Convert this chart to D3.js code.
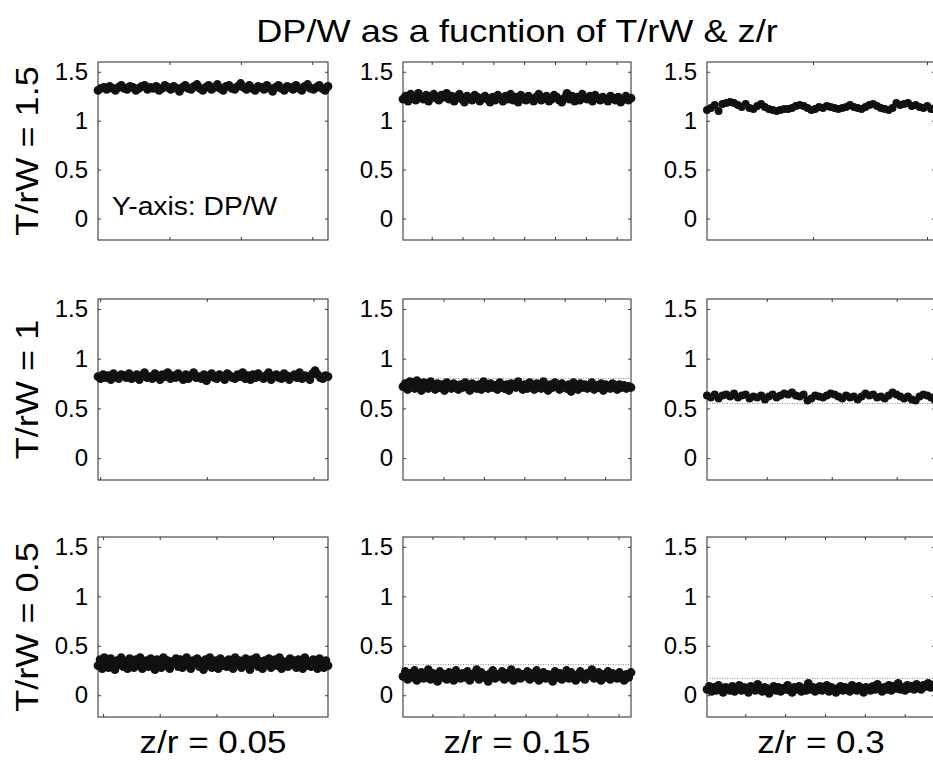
<!DOCTYPE html>
<html>
<head>
<meta charset="utf-8">
<script src="https://cdn.jsdelivr.net/npm/d3@7"></script>
<style>
  html, body { margin: 0; padding: 0; background: #fff; }
  svg { display: block; }
  text { font-family: "Liberation Sans", Arial, Helvetica, sans-serif; fill: #000; }
</style>
</head>
<body>
<svg id="chart" width="933" height="769"></svg>
<script>
// ---------------- data ----------------
const chartTitle = "DP/W as a fucntion of T/rW & z/r";
const rowLabels = ["T/rW = 1.5", "T/rW = 1", "T/rW = 0.5"];
const colLabels = ["z/r = 0.05", "z/r = 0.15", "z/r = 0.3"];
const yTickValues = [0, 0.5, 1, 1.5];
const yTickLabels = ["0", "0.5", "1", "1.5"];
const insideNote = "Y-axis: DP/W";

// DP/W samples, T/rW = 1.5
const dpT15z005 = [1.31,1.33,1.34,1.32,1.35,1.33,1.31,1.34,1.36,1.33,1.32,1.35,1.34,1.31,1.33,1.35,1.36,1.32,1.34,1.33,
  1.35,1.31,1.33,1.36,1.34,1.32,1.35,1.33,1.30,1.34,1.36,1.33,1.32,1.35,1.37,1.33,1.31,1.34,1.36,1.32,
  1.34,1.37,1.33,1.31,1.35,1.36,1.33,1.32,1.35,1.38,1.34,1.32,1.36,1.33,1.31,1.35,1.34,1.32,1.36,1.33,
  1.30,1.34,1.36,1.33,1.31,1.35,1.34,1.32,1.36,1.33,1.31,1.35,1.37,1.33,1.32,1.34,1.36,1.33,1.31,1.35];
const dpT15z015 = [1.22,1.25,1.20,1.27,1.23,1.21,1.28,1.24,1.22,1.26,1.20,1.25,1.27,1.23,1.21,1.26,1.24,1.28,1.22,1.25,
  1.20,1.24,1.27,1.22,1.19,1.25,1.23,1.21,1.26,1.24,1.20,1.23,1.25,1.22,1.19,1.24,1.21,1.26,1.23,1.20,
  1.25,1.22,1.27,1.21,1.24,1.19,1.26,1.23,1.21,1.25,1.22,1.20,1.24,1.27,1.21,1.23,1.25,1.20,1.22,1.26,
  1.24,1.21,1.19,1.23,1.28,1.22,1.25,1.20,1.24,1.21,1.27,1.23,1.22,1.25,1.20,1.26,1.23,1.21,1.24,1.22,
  1.20,1.25,1.23,1.21,1.24,1.19,1.22,1.25,1.21,1.23];
const dpT15z03 = [1.11,1.13,1.16,1.10,1.17,1.18,1.19,1.18,1.16,1.14,1.17,1.13,1.12,1.15,1.17,1.14,1.12,1.11,1.10,1.11,
  1.12,1.12,1.13,1.15,1.16,1.15,1.13,1.11,1.12,1.14,1.13,1.15,1.14,1.13,1.12,1.13,1.14,1.16,1.14,1.13,
  1.12,1.14,1.16,1.17,1.15,1.13,1.12,1.11,1.13,1.18,1.16,1.17,1.18,1.15,1.16,1.14,1.13,1.15,1.12,1.13];

// DP/W samples, T/rW = 1
const dpT1z005 = [0.82,0.80,0.84,0.81,0.83,0.79,0.85,0.82,0.80,0.84,0.83,0.81,0.85,0.80,0.82,0.84,0.79,0.83,0.86,0.81,
  0.82,0.80,0.85,0.83,0.79,0.84,0.82,0.86,0.80,0.83,0.81,0.85,0.82,0.79,0.84,0.80,0.83,0.86,0.81,0.82,
  0.80,0.84,0.78,0.83,0.85,0.81,0.80,0.84,0.82,0.79,0.85,0.83,0.81,0.80,0.84,0.82,0.86,0.80,0.83,0.79,
  0.84,0.81,0.85,0.82,0.80,0.83,0.86,0.79,0.82,0.84,0.81,0.80,0.85,0.83,0.79,0.82,0.84,0.81,0.86,0.80,
  0.83,0.82,0.79,0.85,0.88,0.84,0.81,0.80,0.83,0.82];
const dpT1z015 = [0.72,0.75,0.69,0.77,0.73,0.70,0.78,0.74,0.68,0.76,0.72,0.70,0.77,0.73,0.69,0.75,0.71,0.74,0.68,0.76,
  0.72,0.70,0.75,0.73,0.69,0.74,0.71,0.76,0.72,0.68,0.75,0.73,0.70,0.74,0.69,0.77,0.72,0.70,0.75,0.71,
  0.73,0.69,0.76,0.72,0.70,0.74,0.68,0.75,0.72,0.71,0.77,0.73,0.69,0.74,0.70,0.76,0.72,0.69,0.75,0.73,
  0.70,0.77,0.72,0.68,0.74,0.71,0.76,0.73,0.69,0.75,0.72,0.70,0.74,0.67,0.76,0.73,0.69,0.75,0.71,0.74,
  0.70,0.72,0.76,0.69,0.73,0.71,0.75,0.68,0.74,0.72,0.70,0.75,0.73,0.69,0.74,0.71,0.73,0.70,0.72,0.71];
const dpT1z03 = [0.63,0.61,0.64,0.60,0.63,0.64,0.62,0.65,0.61,0.63,0.64,0.60,0.62,0.61,0.63,0.59,0.62,0.64,0.61,0.63,
  0.65,0.64,0.66,0.63,0.62,0.64,0.58,0.60,0.63,0.62,0.61,0.63,0.65,0.64,0.62,0.60,0.63,0.61,0.62,0.59,
  0.62,0.65,0.63,0.64,0.61,0.62,0.60,0.63,0.66,0.64,0.62,0.60,0.62,0.59,0.58,0.62,0.64,0.63,0.61,0.58];

// DP/W samples, T/rW = 0.5
const dpT05z005 = [0.30,0.36,0.27,0.38,0.32,0.28,0.37,0.33,0.26,0.35,0.31,0.38,0.29,0.34,0.27,0.37,0.32,0.28,0.36,0.30,
  0.38,0.27,0.33,0.35,0.29,0.37,0.31,0.26,0.36,0.33,0.28,0.38,0.30,0.35,0.27,0.34,0.32,0.37,0.29,0.36,
  0.28,0.33,0.38,0.30,0.27,0.35,0.32,0.37,0.29,0.34,0.26,0.36,0.31,0.38,0.28,0.33,0.35,0.27,0.37,0.30,
  0.34,0.29,0.36,0.32,0.27,0.38,0.31,0.35,0.28,0.33,0.37,0.30,0.26,0.36,0.32,0.38,0.29,0.34,0.27,0.35,
  0.31,0.37,0.28,0.33,0.36,0.30,0.38,0.27,0.34,0.32,0.29,0.37,0.31,0.35,0.28,0.36,0.33,0.27,0.38,0.30,
  0.34,0.29,0.36,0.31,0.27,0.37,0.33,0.28,0.35,0.30];
const dpT05z015 = [0.19,0.24,0.16,0.22,0.18,0.25,0.15,0.21,0.23,0.17,0.20,0.26,0.16,0.22,0.19,0.14,0.24,0.18,0.21,0.16,
  0.23,0.19,0.15,0.25,0.20,0.17,0.22,0.18,0.24,0.15,0.21,0.19,0.26,0.16,0.23,0.18,0.20,0.14,0.22,0.25,
  0.17,0.21,0.19,0.24,0.16,0.22,0.18,0.26,0.15,0.20,0.23,0.17,0.21,0.19,0.24,0.16,0.22,0.18,0.25,0.15,
  0.20,0.23,0.17,0.21,0.19,0.14,0.24,0.18,0.22,0.16,0.20,0.25,0.17,0.23,0.19,0.15,0.21,0.24,0.18,0.16,
  0.22,0.20,0.26,0.17,0.19,0.23,0.15,0.21,0.18,0.24,0.16,0.22,0.20,0.17,0.23,0.19,0.15,0.21,0.18,0.23];
const dpT05z03 = [0.06,0.09,0.04,0.08,0.05,0.10,0.07,0.03,0.08,0.06,0.05,0.09,0.04,0.07,0.10,0.05,0.08,0.06,0.03,0.09,
  0.07,0.05,0.11,0.06,0.04,0.08,0.07,0.02,0.06,0.09,0.05,0.08,0.04,0.07,0.06,0.10,0.05,0.03,0.08,0.06,
  0.09,0.04,0.07,0.05,0.12,0.06,0.08,0.04,0.07,0.09,0.05,0.06,0.10,0.04,0.08,0.06,0.03,0.07,0.09,0.05,
  0.08,0.06,0.04,0.10,0.07,0.05,0.09,0.06,0.03,0.08,0.07,0.05,0.09,0.06,0.11,0.07,0.04,0.08,0.06,0.10,
  0.05,0.09,0.07,0.12,0.06,0.08,0.05,0.10,0.07,0.09,0.06,0.11,0.08,0.06,0.10,0.09,0.12,0.08,0.10,0.11];

// reference (dotted) levels per panel, null = none
const refLevels = [null, null, null, null, 0.80, 0.55, null, 0.31, 0.17];
// x-axis (sample index) ranges and tick steps per panel
const xRanges = [[0,161],[1.4,149.3],[3.5,103.5],[-2,213.6],[0,282],[1.6,71.8],[-4.5,198.5],[1,148],[2,288]];
const xTickSteps = [50, 20, 50, 100, 50, 20, 50, 20, 50];
const seriesList = [dpT15z005, dpT15z015, dpT15z03, dpT1z005, dpT1z015, dpT1z03, dpT05z005, dpT05z015, dpT05z03];

// ---------------- layout ----------------
const colLeft = [98, 403, 707];
const colWidth = [230, 228, 228];
const rowTop = [62, 299, 537];
const rowBottom = [240, 480, 717];
const yDomain = [-0.22, 1.6];
const stretch = 1.13; // horizontal stretch of the original lettering
const denseR = 4.4, sparseR = 4.0;
const sparsePanels = [2, 5];

const svg = d3.select("#chart");

// title
svg.append("text")
  .attr("transform", `translate(517,42) scale(${stretch},1)`)
  .attr("text-anchor", "middle")
  .style("font-size", "32px")
  .text(chartTitle);

seriesList.forEach((vals, idx) => {
  const r = Math.floor(idx / 3), c = idx % 3;
  const L = colLeft[c], W = colWidth[c], T = rowTop[r], H = rowBottom[r] - rowTop[r];
  const g = svg.append("g").attr("transform", `translate(${L},${T})`);
  const [a, b] = xRanges[idx];
  const x = d3.scaleLinear().domain([a, b]).range([0, W]);
  const y = d3.scaleLinear().domain(yDomain).range([H, 0]);
  const step = xTickSteps[idx];
  const xt = d3.range(Math.ceil(a / step) * step, b + 1e-9, step).filter(v => v > a + 0.5);

  // box
  g.append("rect").attr("x", 0).attr("y", 0).attr("width", W).attr("height", H)
    .attr("fill", "#fff").attr("stroke", "#3a3a3a").attr("stroke-width", 1.1);

  // ticks (inward, all four sides)
  const axB = g.append("g").attr("transform", `translate(0,${H})`)
    .call(d3.axisBottom(x).tickValues(xt).tickSize(-3).tickFormat(""));
  const axT = g.append("g")
    .call(d3.axisTop(x).tickValues(xt).tickSize(-3).tickFormat(""));
  const axR = g.append("g").attr("transform", `translate(${W},0)`)
    .call(d3.axisRight(y).tickValues(yTickValues).tickSize(-3).tickFormat(""));
  const axL = g.append("g")
    .call(d3.axisLeft(y).tickValues(yTickValues).tickSize(-3).tickPadding(10)
      .tickFormat((d, i) => yTickLabels[i]));
  [axB, axT, axR, axL].forEach(ax => {
    ax.select(".domain").remove();
    ax.selectAll(".tick line").attr("stroke", "#3a3a3a");
  });
  axL.selectAll("text").style("font-size", "24px")
    .style("font-family", '"Liberation Sans", Arial, sans-serif').attr("fill", "#000");

  // dotted reference level
  if (refLevels[idx] !== null) {
    g.append("line")
      .attr("x1", 0).attr("x2", W)
      .attr("y1", y(refLevels[idx])).attr("y2", y(refLevels[idx]))
      .attr("stroke", "#8a8a8a").attr("stroke-width", 1).attr("stroke-dasharray", "1,1.5");
  }

  // markers
  const n = vals.length;
  const rr = sparsePanels.includes(idx) ? sparseR : denseR;
  g.append("g").selectAll("circle").data(vals).join("circle")
    .attr("cx", (d, i) => x(a + i * (b - a) / (n - 1)))
    .attr("cy", d => y(d))
    .attr("r", rr)
    .attr("fill", "#111");

  if (idx === 0) {
    g.append("text")
      .attr("transform", `translate(14,${y(0) - 3}) scale(${stretch},1)`)
      .style("font-size", "25px")
      .text(insideNote);
  }
});

// row labels
rowLabels.forEach((t, r) => {
  const cy = (rowTop[r] + rowBottom[r]) / 2;
  svg.append("text")
    .attr("transform", `translate(38,${cy}) rotate(-90) scale(${stretch},1)`)
    .attr("text-anchor", "middle")
    .style("font-size", "32px")
    .text(t);
});

// column labels
colLabels.forEach((t, c) => {
  svg.append("text")
    .attr("transform", `translate(${colLeft[c] + colWidth[c] / 2},753) scale(${stretch},1)`)
    .attr("text-anchor", "middle")
    .style("font-size", "31px")
    .text(t);
});
</script>
</body>
</html>
